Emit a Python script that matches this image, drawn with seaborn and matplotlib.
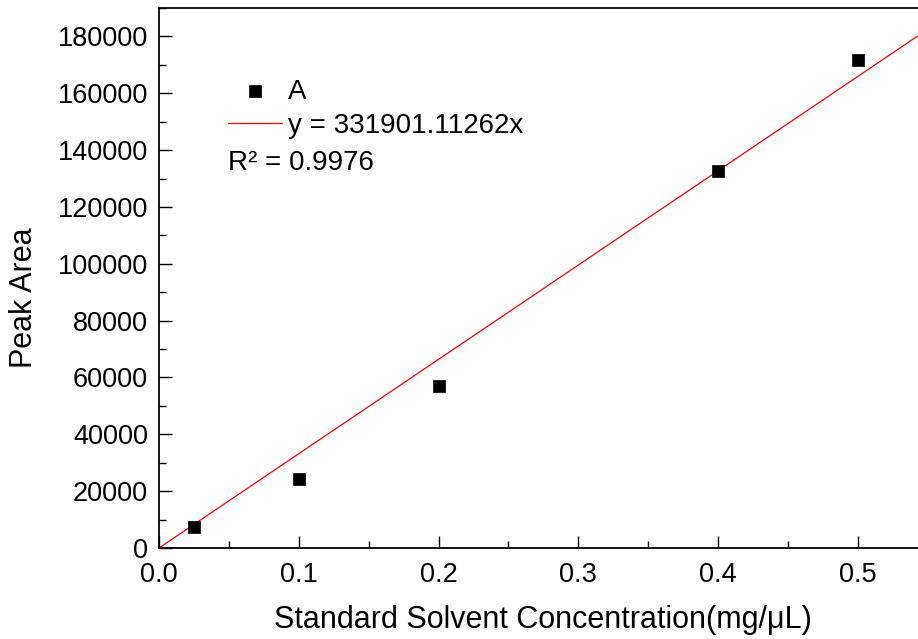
import matplotlib
matplotlib.use("Agg")
import matplotlib.pyplot as plt
import seaborn as sns
import numpy as np
import pandas as pd
from matplotlib.ticker import MultipleLocator, FormatStrFormatter

# Data
concentration = [0.025, 0.1, 0.2, 0.4, 0.5]
peak_area = [7400, 24300, 57000, 132600, 171600]
slope = 331901.11262
r_squared = "0.9976"
fit_x = [0.0, 0.55]

sns.set_theme(style="white")
plt.rcParams['font.family'] = ['Liberation Sans', 'DejaVu Sans']

fig = plt.figure(figsize=(9.18, 6.39), dpi=100)
ax = fig.add_axes([159/918, 91/639, 1 - 159/918, 540/639])

df = pd.DataFrame({"x": concentration, "y": peak_area})
fit_df = pd.DataFrame({"x": fit_x, "y": [slope * v for v in fit_x]})

sns.scatterplot(data=df, x="x", y="y", ax=ax, marker="s", s=72, color="black",
                edgecolor="black", linewidth=0.5, label="A", zorder=3)
sns.lineplot(data=fit_df, x="x", y="y", ax=ax, color="red", linewidth=0.9,
             label=f"y = {slope:.5f}x", zorder=2)

ax.set_xlim(0, 0.543)
ax.set_ylim(0, 190000)
ax.xaxis.set_major_locator(MultipleLocator(0.1))
ax.xaxis.set_minor_locator(MultipleLocator(0.05))
ax.yaxis.set_major_locator(MultipleLocator(20000))
ax.yaxis.set_minor_locator(MultipleLocator(10000))
ax.xaxis.set_major_formatter(FormatStrFormatter("%.1f"))
ax.yaxis.set_major_formatter(FormatStrFormatter("%d"))

ax.tick_params(axis="both", which="major", direction="in", length=9, width=1,
               color="black", labelsize=19.5, labelcolor="black")
ax.tick_params(axis="y", which="major", pad=8)
ax.tick_params(axis="x", which="major", pad=10)
ax.tick_params(axis="both", which="minor", direction="in", length=5, width=1, color="black")
ax.tick_params(axis="x", which="both", bottom=True, top=False)
ax.tick_params(axis="y", which="both", left=True, right=False)

for side in ["left", "bottom", "top"]:
    ax.spines[side].set_color("black")
    ax.spines[side].set_linewidth(1.3)
ax.spines["right"].set_visible(False)

ax.set_xlabel("Standard Solvent Concentration(mg/μL)", fontsize=22, color="black")
ax.set_ylabel("Peak Area", fontsize=22, color="black")
ax.xaxis.set_label_coords((543 - 159) / 759, (548 - 620) / 540)
ax.yaxis.set_label_coords((24 - 159) / 759, (548 - 298) / 540)
ax.xaxis.label.set_va("center")
ax.yaxis.label.set_va("center")

leg = ax.legend(loc="upper left", bbox_to_anchor=(0.0909, 0.869), frameon=False,
                fontsize=20, borderpad=0, borderaxespad=0, handlelength=1.95,
                handletextpad=0.22, labelspacing=0.28)
for t in leg.get_texts():
    t.set_color("black")

ax.text(0.0909, (548 - 163) / 540, f"R² = {r_squared}", transform=ax.transAxes, fontsize=20,
        va="center", ha="left", color="black")

fig.savefig("out.png", dpi=100)
